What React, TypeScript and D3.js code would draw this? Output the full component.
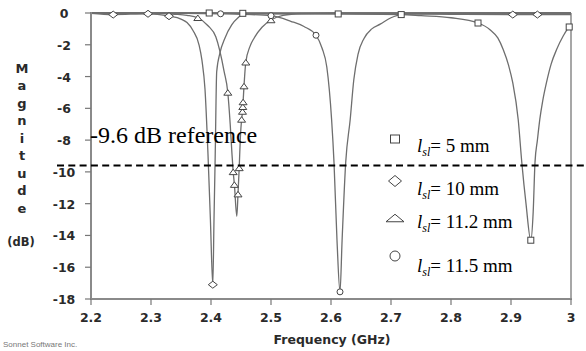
import React from "react";
import * as d3 from "d3";

// Resonance sweeps: magnitude (dB) against frequency (GHz) for each slot length.
const sq5Freq = [2.2, 2.3, 2.397, 2.453, 2.5, 2.612, 2.717, 2.75, 2.8, 2.845, 2.865, 2.878, 2.887, 2.896, 2.903, 2.912, 2.918, 2.925, 2.933, 2.937, 2.94, 2.944, 2.948, 2.953, 2.959, 2.967, 2.976, 2.987, 2.997, 3.0];
const sq5Mag = [0, 0, 0, -0.02, -0.03, -0.06, -0.1, -0.17, -0.3, -0.63, -1.05, -1.57, -2.3, -3.3, -4.4, -6.7, -9.4, -12.0, -14.3, -12.5, -9.4, -8.0, -6.7, -5.5, -4.4, -3.2, -2.3, -1.45, -0.88, -0.8];
const sq5MarkFreq = [2.397, 2.453, 2.612, 2.717, 2.845, 2.933, 2.997];
const sq5MarkMag = [0, -0.02, -0.06, -0.1, -0.63, -14.3, -0.88];

const dm10Freq = [2.2, 2.237, 2.295, 2.33, 2.35, 2.36, 2.37, 2.38, 2.385, 2.39, 2.395, 2.399, 2.403, 2.405, 2.407, 2.4095, 2.415, 2.423, 2.4345, 2.445, 2.453, 2.5, 2.6, 2.7, 2.8, 2.903, 2.944, 3.0];
const dm10Mag = [-0.02, -0.1, -0.05, -0.2, -0.38, -0.6, -1.1, -2.0, -3.0, -4.8, -8.9, -13.0, -17.1, -13.0, -9.0, -3.7, -2.5, -1.6, -0.75, -0.3, -0.1, -0.05, -0.05, -0.05, -0.08, -0.1, -0.1, -0.1];
const dm10MarkFreq = [2.237, 2.295, 2.33, 2.403, 2.903, 2.944];
const dm10MarkMag = [-0.1, -0.05, -0.2, -17.1, -0.1, -0.1];

const tr112Freq = [2.2, 2.3, 2.34, 2.36, 2.378, 2.395, 2.408, 2.422, 2.428, 2.432, 2.435, 2.437, 2.439, 2.443, 2.445, 2.447, 2.449, 2.451, 2.4525, 2.453, 2.4535, 2.455, 2.458, 2.465, 2.472, 2.485, 2.5, 2.52, 2.55, 2.6, 3.0];
const tr112Mag = [0, -0.02, -0.08, -0.15, -0.3, -0.8, -1.5, -3.7, -5.0, -7.0, -8.9, -10.0, -10.8, -12.8, -11.4, -9.75, -7.8, -6.7, -6.2, -5.9, -5.6, -4.6, -3.1, -2.1, -1.57, -0.9, -0.44, -0.15, -0.03, 0, 0];
const tr112MarkFreq = [2.378, 2.428, 2.437, 2.439, 2.445, 2.447, 2.451, 2.4525, 2.453, 2.4535, 2.455, 2.458, 2.5];
const tr112MarkMag = [-0.3, -5.0, -10.0, -10.8, -11.4, -9.75, -6.7, -6.2, -5.9, -5.6, -4.6, -3.1, -0.44];

const ci115Freq = [2.2, 2.3, 2.416, 2.45, 2.5, 2.533, 2.555, 2.575, 2.585, 2.593, 2.601, 2.605, 2.61, 2.615, 2.6185, 2.6245, 2.632, 2.638, 2.645, 2.655, 2.668, 2.682, 2.7, 2.717, 2.75, 2.8, 2.9, 3.0];
const ci115Mag = [0, 0, -0.05, -0.08, -0.17, -0.52, -0.85, -1.4, -2.2, -3.4, -6.7, -9.4, -14.3, -17.55, -14.3, -9.4, -6.7, -4.2, -2.6, -1.6, -1.0, -0.7, -0.3, -0.1, -0.05, -0.02, 0, 0];
const ci115MarkFreq = [2.416, 2.5, 2.575, 2.615];
const ci115MarkMag = [-0.05, -0.17, -1.4, -17.55];

const xTicks = [2.2, 2.3, 2.4, 2.5, 2.6, 2.7, 2.8, 2.9, 3.0];
const xTickLabels = ["2.2", "2.3", "2.4", "2.5", "2.6", "2.7", "2.8", "2.9", "3"];
const yTicks = [0, -2, -4, -6, -8, -10, -12, -14, -16, -18];
const yTitleLetters = ["M", "a", "g", "n", "i", "t", "u", "d", "e"];
const referenceLevel = -9.6;
const legendLengths = ["5", "10", "11.2", "11.5"];

type Shape = "square" | "diamond" | "triangle" | "circle";

const W = 586;
const H = 351;
const axisFont = "'DejaVu Sans', Verdana, sans-serif";
const serif = "'Liberation Serif', 'Times New Roman', serif";

function Marker({ shape, cx, cy, s, h }: { shape: Shape; cx: number; cy: number; s: number; h?: number }) {
  const st = { fill: "#fff", stroke: "#444", strokeWidth: 1 };
  const half = s / 2;
  const vh = (h ?? s) / 2;
  if (shape === "square") return <rect x={cx - half} y={cy - vh} width={s} height={h ?? s} {...st} />;
  if (shape === "diamond") {
    return <path d={`M${cx - half},${cy}L${cx},${cy - vh}L${cx + half},${cy}L${cx},${cy + vh}Z`} {...st} />;
  }
  if (shape === "triangle") {
    return <path d={`M${cx - half},${cy + vh}L${cx},${cy - vh}L${cx + half},${cy + vh}Z`} {...st} />;
  }
  return <circle cx={cx} cy={cy} r={half} {...st} />;
}

export default function App() {
  const x = d3.scaleLinear().domain([2.2, 3.0]).range([91, 571]);
  const y = d3.scaleLinear().domain([0, -18]).range([13, 299]);

  const series: { f: number[]; m: number[]; mf: number[]; mm: number[]; shape: Shape; ms: number; mh: number }[] = [
    { f: sq5Freq, m: sq5Mag, mf: sq5MarkFreq, mm: sq5MarkMag, shape: "square", ms: 6, mh: 6 },
    { f: dm10Freq, m: dm10Mag, mf: dm10MarkFreq, mm: dm10MarkMag, shape: "diamond", ms: 9, mh: 7 },
    { f: tr112Freq, m: tr112Mag, mf: tr112MarkFreq, mm: tr112MarkMag, shape: "triangle", ms: 8, mh: 5.5 },
    { f: ci115Freq, m: ci115Mag, mf: ci115MarkFreq, mm: ci115MarkMag, shape: "circle", ms: 6, mh: 6 },
  ];

  const line = d3
    .line<[number, number]>()
    .x((d) => x(d[0]))
    .y((d) => y(d[1]))
    .curve(d3.curveMonotoneX);

  const legendShapes: Shape[] = ["square", "diamond", "triangle", "circle"];
  const legendMarkerY = [139, 181, 218, 256];
  const legendTextY = [152, 195, 228, 272];
  const legendMarkerW = [9, 13, 18, 10];
  const legendMarkerH = [8, 11, 7.5, 10];

  return (
    <svg width={W} height={H} style={{ position: "absolute", left: 0, top: 0, background: "#fff" }}>
      <rect x={0} y={0} width={W} height={H} fill="#fff" />

      {/* frame */}
      <line x1={91} x2={571} y1={13} y2={13} stroke="#8a8a8a" strokeWidth={2} />
      <line x1={571} x2={571} y1={13} y2={299} stroke="#8a8a8a" strokeWidth={1.5} />

      {/* curves */}
      {series.map((s, i) => (
        <path
          key={i}
          d={line(s.f.map((f, k) => [f, s.m[k]] as [number, number])) || ""}
          fill="none"
          stroke="#6e6e6e"
          strokeWidth={1.3}
        />
      ))}
      {series.map((s, i) => (
        <g key={"m" + i}>
          {s.mf.map((f, k) => (
            <Marker key={k} shape={s.shape} cx={x(f)} cy={y(s.mm[k])} s={s.ms} h={s.mh} />
          ))}
        </g>
      ))}

      {/* axes */}
      <line x1={91} x2={91} y1={12} y2={300} stroke="#8a8a8a" strokeWidth={2} />
      <line x1={90} x2={572} y1={299} y2={299} stroke="#8a8a8a" strokeWidth={2} />
      {yTicks.map((t) => (
        <g key={t}>
          <line x1={85} x2={91} y1={y(t)} y2={y(t)} stroke="#777" strokeWidth={1.2} />
          <text x={64} y={y(t) + 5} textAnchor="middle" fontFamily={axisFont} fontWeight="bold" fontSize={12.5} fill="#2a2a2a">
            {t === 0 ? "0" : `-${Math.abs(t)}`}
          </text>
        </g>
      ))}
      {xTicks.map((t, i) => (
        <g key={t}>
          <line x1={x(t)} x2={x(t)} y1={299} y2={305} stroke="#777" strokeWidth={1.2} />
          <text x={x(t)} y={322} textAnchor="middle" fontFamily={axisFont} fontWeight="bold" fontSize={12.5} fill="#2a2a2a">
            {xTickLabels[i]}
          </text>
        </g>
      ))}

      {/* axis titles */}
      {yTitleLetters.map((c, i) => (
        <text key={i} x={22} y={72.7 + i * 17.5} textAnchor="middle" fontFamily={axisFont} fontWeight="bold" fontSize={13} fill="#2a2a2a">
          {c}
        </text>
      ))}
      <text x={21} y={246} textAnchor="middle" fontFamily={axisFont} fontWeight="bold" fontSize={11.5} fill="#2a2a2a">
        (dB)
      </text>
      <text x={332} y={344} textAnchor="middle" fontFamily={axisFont} fontWeight="bold" fontSize={12.5} fill="#2a2a2a">
        Frequency (GHz)
      </text>
      <text x={3} y={347} fontFamily="'Liberation Sans', Arial, sans-serif" fontSize={8} fill="#777">
        Sonnet Software Inc.
      </text>

      {/* reference level */}
      <line x1={57} x2={586} y1={y(referenceLevel)} y2={y(referenceLevel)} stroke="#000" strokeWidth={2} strokeDasharray="7 4.3" />
      <text x={90} y={143} fontFamily={serif} fontSize={24} fill="#000">
        {referenceLevel} dB reference
      </text>

      {/* legend */}
      {legendShapes.map((sh, i) => (
        <g key={sh}>
          <Marker shape={sh} cx={395} cy={legendMarkerY[i]} s={legendMarkerW[i]} h={legendMarkerH[i]} />
          <text x={417} y={legendTextY[i]} fontFamily={serif} fontSize={19} fill="#000">
            <tspan fontStyle="italic">l</tspan>
            <tspan fontStyle="italic" fontSize={12} dy={4}>sl</tspan>
            <tspan dy={-4}>= {legendLengths[i]} mm</tspan>
          </text>
        </g>
      ))}
    </svg>
  );
}
